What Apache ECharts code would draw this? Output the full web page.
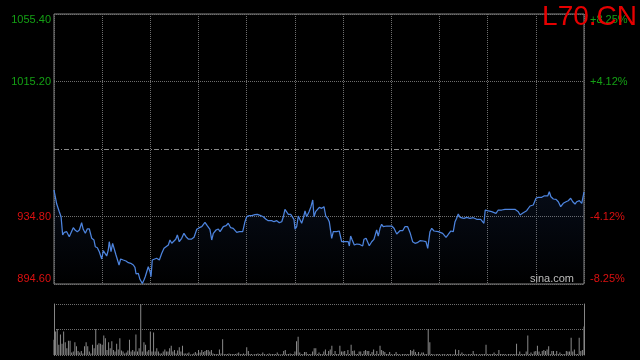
<!DOCTYPE html>
<html><head><meta charset="utf-8">
<script src="https://cdn.jsdelivr.net/npm/echarts@6/dist/echarts.min.js"></script>
<style>html,body{margin:0;padding:0;background:#000;}#c{width:640px;height:360px;}</style>
</head><body><div id="c"></div>
<script>
const title = 'L70.CN';
const prevClose = 975.00;
// minutes into session (0..330)
const times = [
  0, 1.7, 2.7, 3.3, 4.4, 5.4, 6.4, 7.9, 9.5, 10.6,
  12.0, 13.1, 14.5, 15.8, 17.2, 18.2, 19.5, 20.7, 22.0, 23.5,
  24.9, 25.7, 27.0, 28.2, 29.7, 30.7, 31.8, 32.8, 33.8, 34.4,
  35.5, 36.5, 37.4, 38.6, 39.7, 40.5, 41.5, 43.1, 44.8, 46.3,
  47.8, 49.4, 50.4, 51.1, 52.5, 53.5, 55.0, 56.0, 56.8, 57.7,
  58.7, 59.8, 60.4, 61.2, 62.3, 63.9, 65.6, 67.1, 68.5, 69.7,
  71.2, 72.2, 73.3, 74.3, 75.8, 76.8, 78.0, 79.5, 80.9, 82.2,
  83.6, 85.7, 87.2, 88.9, 90.5, 92.0, 94.0, 95.4, 97.1, 98.2,
  99.2, 100.9, 102.3, 103.4, 104.4, 105.4, 107.1, 108.5, 110.0, 111.6,
  113.8, 115.4,
  117.5, 118.9, 120.0, 121.6, 123.1, 125.1, 126.6, 128.3, 130.3, 132.0,
  133.4, 134.5, 135.5, 137.0, 138.7, 140.3, 141.8, 142.8, 143.8, 144.9,
  145.9, 147.4, 148.6, 149.4, 150.1, 151.1, 152.1, 153.2, 154.2, 155.2,
  156.3, 157.3, 158.8, 160.0, 161.1, 161.9, 162.9, 163.9, 165.2, 166.7,
  168.1, 169.2, 170.4, 171.4, 172.9, 173.9, 175.0, 176.0, 177.6, 179.1,
  181.2, 183.2, 183.9, 184.7, 185.7, 187.0, 188.5, 190.1, 191.2, 192.2,
  193.0, 194.3, 195.3, 196.3, 197.8, 199.2, 200.9, 201.9, 203.0, 204.0,
  205.0, 207.2, 210.3, 211.7, 213.4, 214.4, 215.4, 217.1, 218.5, 220.2,
  221.7, 223.3, 224.8, 226.2, 227.9, 229.9, 231.6, 232.7,
  234.1, 235.2, 236.6, 239.3, 242.0, 244.1, 245.5, 247.0, 248.6, 249.7,
  250.7, 251.7, 252.8, 253.8, 255.3, 256.9, 259.0, 261.1, 263.2, 264.2,
  265.7, 266.9, 267.7, 268.5, 269.8, 271.0, 272.5, 273.5, 275.2, 276.6,
  278.8, 280.8, 283.9, 287.0, 289.1, 290.2, 292.2, 294.3, 296.4, 298.4,
  300.1, 301.5, 303.7, 305.1, 306.3, 307.4, 308.4, 309.4, 310.9, 312.6,
  314.0, 315.5, 317.1, 318.8, 320.2, 321.7, 323.0, 324.4, 325.5, 327.1,
  328.6, 330.0
];
const prices = [
  950.58, 942.24, 942.24, 937.66, 934.68, 923.78, 925.39, 925.75, 922.77, 922.77,
  928.13, 926.76, 925.75, 926.76, 931.11, 927.18, 924.79, 927.36, 927.36, 921.82,
  920.80, 916.81, 916.22, 913.84, 909.49, 914.43, 912.88, 911.27, 914.85, 919.79,
  913.84, 918.84, 919.79, 911.87, 912.88, 905.92, 909.49, 908.89, 908.30, 907.28,
  906.93, 905.92, 904.55, 900.56, 900.97, 897.40, 894.90, 896.98, 898.95, 898.59,
  904.90, 901.92, 898.95, 908.89, 909.91, 909.91, 908.89, 912.88, 915.86, 915.27,
  917.83, 920.80, 918.84, 918.84, 921.22, 923.78, 919.79, 921.82, 924.79, 922.77,
  921.40, 921.40, 922.41, 927.18, 928.13, 928.73, 931.35, 929.32, 927.18, 920.80,
  924.79, 926.76, 927.36, 925.75, 924.79, 928.73, 929.32, 930.75, 928.13, 927.77,
  925.39, 925.75,
  925.75, 931.70, 934.68, 935.28, 935.28, 935.87, 936.11, 935.51, 934.68, 933.13,
  932.30, 931.11, 932.30, 931.70, 932.30, 931.11, 931.70, 934.68, 939.09, 938.08,
  936.11, 936.11, 936.71, 933.13, 927.18, 928.73, 935.10, 935.69, 930.75, 933.73,
  938.08, 934.68, 937.66, 940.64, 944.63, 934.68, 937.66, 936.71, 940.28, 939.68,
  940.64, 935.10, 933.73, 931.70, 921.82, 925.75, 924.79, 925.75, 926.16, 919.79,
  919.79, 919.79, 917.23, 923.19, 920.80, 917.83, 918.42, 918.24, 919.19, 917.23,
  921.22, 921.82, 921.40, 917.41, 919.79, 921.22, 926.76, 923.19, 927.77, 930.15,
  928.73, 929.14, 929.14, 927.77, 924.38, 924.79, 926.34, 926.34, 928.73, 928.73,
  925.15, 919.79, 918.84, 919.19, 920.39, 920.21, 919.79, 915.86,
  925.75, 927.77, 926.16, 925.75, 924.79, 922.41, 924.20, 926.16, 925.75, 931.70,
  933.73, 936.29, 934.32, 935.10, 933.73, 934.32, 933.73, 934.08, 933.13, 934.32,
  933.13, 934.32, 930.75, 938.67, 938.25, 939.09, 937.66, 936.71, 936.71, 938.67,
  938.67, 939.09, 939.09, 939.09, 937.66, 935.69, 937.06, 938.25, 941.05, 941.65,
  945.64, 946.23, 946.23, 947.01, 947.60, 947.01, 949.57, 946.59, 945.22, 945.04,
  943.61, 940.64, 942.66, 943.61, 944.21, 945.64, 943.61, 942.24, 943.61, 944.21,
  942.66, 949.39
];
// volume per minute 0..330 (relative units)
const volumes = [
  30, 46, 51, 20, 40, 22, 46, 25, 13, 28,
  28, 5, 7, 25, 17, 8, 5, 8, 3, 17,
  25, 17, 7, 3, 20, 13, 51, 20, 23, 22,
  20, 38, 33, 10, 25, 13, 27, 10, 7, 22,
  11, 33, 9, 7, 3, 5, 9, 30, 7, 10,
  7, 40, 7, 13, 100, 7, 25, 20, 7, 10,
  46, 7, 44, 7, 13, 7, 3, 3, 7, 11,
  7, 7, 13, 18, 7, 10, 3, 9, 15, 7,
  18, 3, 3, 3, 5, 1, 2, 3, 6, 3,
  10, 5, 10, 6, 8, 10, 10, 7, 10, 3,
  2, 2, 2, 11, 3, 31, 2, 2, 2, 3,
  2, 2, 2, 2, 3, 5, 2, 2, 3, 2,
  15, 8, 2, 2, 1, 2, 2, 3, 2, 2,
  5, 2, 1, 2, 3, 2, 2, 2, 2, 5,
  2, 1, 2, 8, 10, 2, 2, 3, 2, 2,
  7, 27, 36, 5, 2, 2, 6, 6, 2, 2,
  2, 7, 13, 13, 2, 5, 2, 2, 7, 11,
  2, 8, 11, 18, 2, 8, 2, 2, 18, 7,
  7, 8, 2, 10, 2, 20, 8, 9, 2, 2,
  7, 7, 2, 8, 10, 8, 8, 2, 6, 11,
  2, 8, 2, 18, 10, 8, 6, 2, 2, 6,
  2, 1, 2, 6, 2, 2, 1, 2, 2, 2,
  2, 2, 10, 8, 11, 6, 2, 6, 2, 5,
  5, 2, 2, 51, 25, 2, 2, 1, 2, 2,
  2, 1, 2, 2, 1, 2, 2, 2, 1, 2,
  11, 2, 10, 2, 5, 2, 2, 1, 2, 2,
  2, 8, 2, 2, 1, 2, 2, 2, 2, 20,
  2, 2, 2, 2, 5, 2, 2, 10, 2, 2,
  2, 2, 1, 2, 2, 2, 2, 2, 22, 2,
  7, 2, 2, 2, 7, 38, 2, 5, 2, 7,
  8, 18, 7, 2, 8, 10, 8, 11, 17, 2,
  8, 8, 2, 8, 2, 5, 2, 2, 2, 8,
  7, 7, 34, 7, 11, 2, 2, 34, 8, 10,
  56
];

const GREEN = '#14a014', RED = '#dc1010';
const GRID_C = '#6e6e6e', BORDER_C = '#858585';
const step = 40.2;
const chart = echarts.init(document.getElementById('c'), null, {renderer: 'canvas'});
const lineData = times.map((t, i) => [t, +(prices[i] - prevClose).toFixed(2)]);
const volData = volumes.map((v, i) => [i, v]);
const labelColor = v => (v > 0 ? GREEN : RED);

chart.setOption({
  backgroundColor: '#000',
  animation: false,
  grid: [
    {left: 54, top: 14, width: 530, height: 270, show: true, borderColor: BORDER_C, borderWidth: 1},
    {left: 54, top: 304, width: 530, height: 51}
  ],
  xAxis: [
    {gridIndex: 0, type: 'value', min: 0, max: 330, interval: 30,
     axisLine: {show: false}, axisTick: {show: false}, axisLabel: {show: false},
     splitLine: {show: true, lineStyle: {color: GRID_C, type: 'dotted'}}},
    {gridIndex: 1, type: 'value', min: 0, max: 330, show: false}
  ],
  yAxis: [
    {gridIndex: 0, type: 'value', min: -2 * step, max: 2 * step, interval: step, position: 'left',
     axisLine: {show: false}, axisTick: {show: false},
     axisLabel: {margin: 3, fontSize: 11, fontFamily: 'Arial',
       formatter: v => Math.abs(v) < 1e-6 ? '' : (prevClose + v).toFixed(2),
       color: labelColor, verticalAlignMinLabel: 'bottom', verticalAlignMaxLabel: 'top'},
     splitLine: {show: true, lineStyle: {type: 'dotted', color: [GRID_C, GRID_C, 'rgba(0,0,0,0)', GRID_C, GRID_C]}}},
    {gridIndex: 0, type: 'value', min: -2 * step, max: 2 * step, interval: step, position: 'right',
     axisLine: {show: false}, axisTick: {show: false}, splitLine: {show: false},
     axisLabel: {margin: 6, fontSize: 11, fontFamily: 'Arial',
       formatter: v => Math.abs(v) < 1e-6 ? '' : (v > 0 ? '+' : '') + (v / prevClose * 100).toFixed(2) + '%',
       color: labelColor, verticalAlignMinLabel: 'bottom', verticalAlignMaxLabel: 'top'}},
    {gridIndex: 1, type: 'value', min: 0, max: 100, interval: 50, position: 'left',
     axisLine: {show: true, lineStyle: {color: BORDER_C}}, axisTick: {show: false}, axisLabel: {show: false},
     splitLine: {show: true, lineStyle: {type: 'dotted', color: GRID_C}}},
    {gridIndex: 1, type: 'value', min: 0, max: 100, position: 'right',
     axisLine: {show: true, lineStyle: {color: BORDER_C}}, axisTick: {show: false}, axisLabel: {show: false},
     splitLine: {show: false}}
  ],
  series: [
    {type: 'line', xAxisIndex: 0, yAxisIndex: 0, data: lineData, showSymbol: false, symbol: 'none',
     lineStyle: {color: '#4d84de', width: 1.25},
     areaStyle: {origin: 'start', color: new echarts.graphic.LinearGradient(0, 0, 0, 1, [
       {offset: 0, color: 'rgba(45,85,165,0.2)'}, {offset: 1, color: 'rgba(45,85,165,0.0)'}])},
     markLine: {silent: true, symbol: ['none', 'none'], label: {show: false},
       lineStyle: {color: '#8a8a8a', width: 1, type: [5, 2, 1, 2]}, data: [{yAxis: 0}]}},
    {type: 'bar', xAxisIndex: 1, yAxisIndex: 2, data: volData, barWidth: 1,
     itemStyle: {color: '#8a8a8a'}}
  ],
  graphic: [
    {type: 'text', x: 574, y: 279, z: 10,
     style: {text: 'sina.com', fill: '#bdbdbd', font: '11px Arial', align: 'right', verticalAlign: 'middle'}},
    {type: 'text', x: 637, y: 17, z: 20,
     style: {text: title, fill: '#e60000', font: '28px Arial', align: 'right', verticalAlign: 'middle'}}
  ]
});
</script></body></html>
